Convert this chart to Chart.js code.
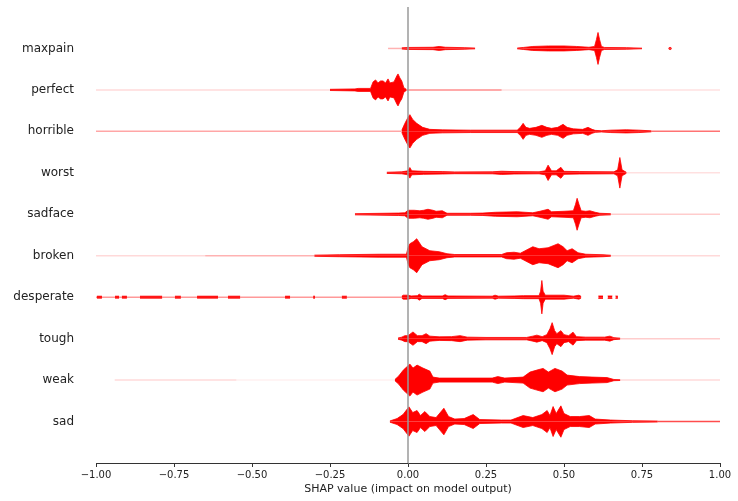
<!DOCTYPE html>
<html>
<head>
<meta charset="utf-8">
<script src="https://cdn.jsdelivr.net/npm/chart.js@4.4.0/dist/chart.umd.min.js"></script>
<style>
  body { margin: 0; background: #fff; }
  canvas { display: block; }
</style>
</head>
<body>
<canvas id="shap-violin" width="738" height="501"></canvas>
<script>
// features from top to bottom
var features = ["maxpain", "perfect", "horrible", "worst", "sadface", "broken", "desperate", "tough", "weak", "sad"];
var xTicks = [-1, -0.75, -0.5, -0.25, 0, 0.25, 0.5, 0.75, 1];

// [shap value, density]  (null = no samples there)
var maxpain = [[-0.02,0.6],[0.0,1],[0.08,1.2],[0.10,2],[0.12,1.2],[0.18,0.8],[0.215,0.4],[0.22,null],
  [0.35,0.4],[0.37,1],[0.40,2],[0.45,2.5],[0.50,2.5],[0.54,2],[0.58,1.2],[0.598,2],[0.604,9],[0.609,16],[0.614,9],
  [0.62,2],[0.63,1],[0.70,0.8],[0.75,0.3],[0.76,null],[0.835,0.3],[0.84,1.2],[0.845,0.3]];
var perfect = [[-0.25,0.6],[-0.17,1],[-0.16,1.5],[-0.12,1.5],[-0.112,8],[-0.104,10],[-0.096,7],[-0.088,9],[-0.08,9],
  [-0.072,7],[-0.064,11],[-0.058,7],[-0.045,8],[-0.036,14],[-0.032,16],[-0.026,12],[-0.02,9],[-0.013,2],[-0.005,0.6]];
var horrible = [[-0.02,1],[-0.01,8],[0.0,14],[0.006,16.7],[0.015,12],[0.028,8],[0.047,4],[0.07,2],[0.11,1.5],[0.2,1.2],
  [0.35,1.2],[0.36,4],[0.369,8],[0.378,4],[0.39,3],[0.41,4],[0.429,6],[0.445,4],[0.46,3],[0.48,4],[0.497,7],[0.51,4],
  [0.53,2.5],[0.56,2],[0.577,4],[0.59,2],[0.60,1],[0.62,0.6],[0.65,1.2],[0.70,1.6],[0.74,1.2],[0.78,0.5]];
var worst = [[-0.068,0.6],[-0.02,1],[0.0,2],[0.006,5.3],[0.012,2],[0.05,1.5],[0.11,1.2],[0.15,0.9],[0.27,1],[0.30,1.6],
  [0.34,1.2],[0.42,1],[0.44,2],[0.449,7.7],[0.46,2],[0.475,2],[0.49,5.5],[0.50,1.5],[0.55,1.2],[0.66,1],[0.672,3],
  [0.679,15.3],[0.686,3],[0.70,0.5]];
var sadface = [[-0.17,0.6],[-0.03,1.2],[-0.01,1.5],[0.0,4],[0.02,4],[0.038,3.5],[0.05,4],[0.064,5],[0.08,4],[0.09,3],
  [0.11,3.5],[0.125,1],[0.2,1],[0.24,1.2],[0.28,2],[0.35,2.5],[0.40,1.5],[0.423,3],[0.449,5],[0.46,2.5],[0.50,3],
  [0.53,3.5],[0.537,10],[0.542,16],[0.548,10],[0.555,3.5],[0.57,3],[0.583,3.5],[0.60,2],[0.615,1],[0.65,0.6]];
var broken = [[-0.3,0.6],[-0.22,1],[-0.09,1.5],[-0.005,1.5],[0.0,8],[0.006,12],[0.017,14],[0.028,17],[0.045,9],
  [0.07,5],[0.10,4],[0.125,2],[0.15,1.2],[0.3,1.2],[0.316,3],[0.34,3.5],[0.36,2.5],[0.40,9],[0.42,7],[0.449,8],
  [0.465,10],[0.481,12],[0.497,9],[0.51,5],[0.526,7],[0.545,3],[0.57,1.5],[0.625,1],[0.65,0.5]];
var desperate = [[-0.997,1],[-0.981,1],[-0.97,null],[-0.939,1],[-0.926,1],[-0.92,null],[-0.917,1],[-0.901,1],
  [-0.89,null],[-0.859,1],[-0.788,1],[-0.78,null],[-0.747,1],[-0.728,1],[-0.72,null],[-0.676,1],[-0.609,1],
  [-0.6,null],[-0.577,1],[-0.538,1],[-0.5,null],[-0.394,1],[-0.378,1],[-0.35,null],[-0.304,1],[-0.298,1],
  [-0.25,null],[-0.212,1],[-0.196,1],[-0.15,null],
  [-0.02,1],[-0.015,2],[0.0,2],[0.01,1.2],[0.03,1.5],[0.036,3],[0.045,1.2],[0.11,1.2],[0.119,2.5],
  [0.128,1.2],[0.27,1],[0.279,2],[0.29,1],[0.34,1.2],[0.37,1.5],[0.42,1.5],[0.425,6],[0.429,16.7],[0.433,6],
  [0.44,2],[0.50,2],[0.53,1],[0.548,2],[0.555,0.8],[0.56,null],[0.61,1.2],[0.625,1.2],[0.63,null],[0.64,1.2],
  [0.655,1.2],[0.66,null],[0.665,1.2],[0.673,1]];
var tough = [[-0.032,0.6],[-0.02,1.5],[-0.01,3],[0.0,3],[0.016,6.7],[0.03,3],[0.045,3],[0.058,5],[0.07,2.5],[0.10,1.8],
  [0.14,2],[0.167,3],[0.19,1.5],[0.25,1.2],[0.38,1.2],[0.40,2.5],[0.413,3.5],[0.43,2],[0.445,4],[0.455,10],[0.462,16],
  [0.47,8],[0.477,5],[0.49,8],[0.50,4],[0.515,3],[0.529,6.5],[0.54,2],[0.57,1.5],[0.63,1.5],[0.647,2.5],[0.66,1],[0.68,0.5]];
var weak = [[-0.042,0.6],[-0.03,4],[-0.015,10],[0.006,16],[0.016,12],[0.029,15],[0.048,12],[0.07,9],[0.08,3],[0.1,2],
  [0.27,2],[0.288,3.5],[0.31,2],[0.369,3],[0.391,8],[0.413,10],[0.433,11.7],[0.45,8],[0.471,11.7],[0.494,9],[0.51,5],
  [0.55,3.5],[0.59,3],[0.638,2.5],[0.66,0.6],[0.68,0.4]];
var sad = [[-0.058,0.6],[-0.035,3],[-0.016,7],[0.003,14.7],[0.015,9],[0.029,11],[0.04,6],[0.054,10],[0.07,5],[0.09,4],
  [0.115,13.3],[0.13,5],[0.15,2.5],[0.18,3],[0.209,7],[0.23,2],[0.3,1.5],[0.33,1.5],[0.369,6],[0.40,4],[0.429,7],
  [0.446,11],[0.455,6],[0.465,15],[0.475,8],[0.49,15.7],[0.50,8],[0.52,5],[0.55,5],[0.581,6],[0.60,2.5],[0.65,1.5],
  [0.72,0.8],[0.8,0.5]];

// faint sparse tails: [from, to, opacity]
var maxpainTails = [[-0.064, -0.02, 0.3]];
var perfectTails = [[-1, -0.25, 0.15], [-0.005, 0.3, 0.45], [0.3, 1, 0.12]];
var horribleTails = [[-1, -0.02, 0.35], [0.78, 1, 0.55]];
var worstTails = [[0.7, 1, 0.12]];
var sadfaceTails = [[0.65, 1, 0.2]];
var brokenTails = [[-1, -0.65, 0.15], [-0.65, -0.3, 0.3], [0.65, 1, 0.15]];
var desperateTails = [[-1, -0.02, 0.4]];
var toughTails = [[0.68, 1, 0.2]];
var weakTails = [[-0.94, -0.55, 0.15], [-0.55, -0.042, 0.06], [0.68, 1, 0.15]];
var sadTails = [[0.8, 1, 0.7]];

var shapes = [maxpain, perfect, horrible, worst, sadface, broken, desperate, tough, weak, sad];
var tails = [maxpainTails, perfectTails, horribleTails, worstTails, sadfaceTails, brokenTails, desperateTails, toughTails, weakTails, sadTails];

var widthScale = 1 / 41.5; // density -> row units
var red = 'rgb(255,0,0)';

var datasets = [{
  data: [{x: 0, y: -1}, {x: 0, y: 10}],
  borderColor: '#9a9a9a',
  borderWidth: 1.5,
  pointRadius: 0,
  fill: false,
  order: -1
}];

shapes.forEach(function (pts, i) {
  var row = features.length - 1 - i;
  [1, -1].forEach(function (side) {
    datasets.push({
      data: pts.map(function (p) {
        return {x: p[0], y: p[1] === null ? null : row + side * p[1] * widthScale};
      }),
      borderColor: red,
      backgroundColor: red,
      borderWidth: 0.8,
      pointRadius: 0,
      tension: 0,
      fill: {value: row}
    });
  });
  var segs = tails[i];
  if (segs.length) {
    var d = [];
    segs.forEach(function (s) {
      d.push({x: s[0], y: row}, {x: s[1], y: row}, {x: s[1], y: null});
    });
    datasets.push({
      data: d,
      borderWidth: 1.5,
      pointRadius: 0,
      fill: false,
      segment: {
        borderColor: function (ctx) {
          var s = segs[Math.floor(ctx.p0DataIndex / 3)];
          return 'rgba(255,0,0,' + s[2] + ')';
        }
      }
    });
  }
});

var ctx = document.getElementById("shap-violin");

var shapChart = new Chart(ctx, {
  type: 'line',
  data: {datasets: datasets},
  options: {
    responsive: false,
    animation: false,
    spanGaps: false,
    layout: {padding: {top: 7, right: 18, bottom: 0, left: 0}},
    plugins: {legend: {display: false}, tooltip: {enabled: false}},
    scales: {
      x: {
        type: 'linear',
        min: -1,
        max: 1,
        afterBuildTicks: function (s) { s.ticks = xTicks.map(function (v) { return {value: v}; }); },
        afterFit: function (s) { s.height = 38; s.paddingLeft = 0; s.paddingRight = 0; },
        border: {display: true, color: '#333333', width: 1},
        grid: {drawOnChartArea: false, drawTicks: true, tickLength: 4, color: '#333333'},
        ticks: {
          padding: 2,
          color: '#222222',
          font: {family: 'DejaVu Sans', size: 10},
          callback: function (v) { return (v < 0 ? '\u2212' : '') + Math.abs(v).toFixed(2); }
        },
        title: {
          display: true,
          text: 'SHAP value (impact on model output)',
          color: '#222222',
          font: {family: 'DejaVu Sans', size: 11},
          padding: {top: 2, bottom: 5}
        }
      },
      y: {
        type: 'linear',
        min: -1,
        max: 10,
        afterFit: function (s) { s.width = 96; s.paddingTop = 0; s.paddingBottom = 0; },
        border: {display: false},
        grid: {display: false, drawTicks: false},
        ticks: {
          stepSize: 1,
          padding: 22,
          color: '#222222',
          font: {family: 'DejaVu Sans', size: 12},
          callback: function (v) {
            var idx = features.length - 1 - v;
            return (idx >= 0 && idx < features.length) ? features[idx] : '';
          }
        }
      }
    }
  }
});
</script>
</body>
</html>
